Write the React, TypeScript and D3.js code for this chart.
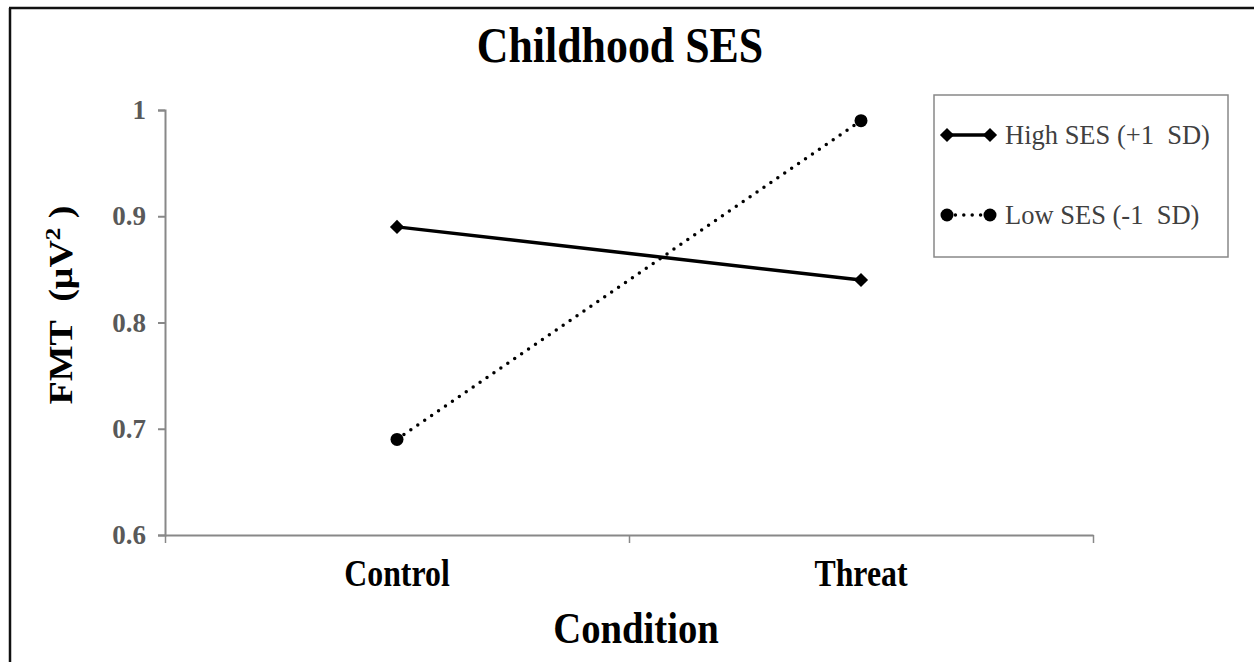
import { useEffect, useRef } from "react";
import { axisBottom, axisLeft, line, scaleLinear, scalePoint, select, symbol, symbolSquare } from "d3";

const conditions = ["Control", "Threat"];
const highSES = [0.89, 0.84];
const lowSES = [0.69, 0.99];
const yTicks = [0.6, 0.7, 0.8, 0.9, 1];
const seriesNames = ["High SES (+1  SD)", "Low SES (-1  SD)"];

const W = 1254;
const H = 662;
const left = 165;
const right = 1093;
const top = 110;
const bottom = 535;
const serif = "'Liberation Serif', 'Times New Roman', serif";
const axisGray = "#888888";
const labelGray = "#595959";
const squeeze = 0.86;

function Narrow({ x, y, size, children }: { x: number; y: number; size: number; children: string }) {
  return (
    <text
      transform={`translate(${x},${y}) scale(${squeeze},1)`}
      textAnchor="middle"
      fontFamily={serif}
      fontWeight="bold"
      fontSize={size}
    >
      {children}
    </text>
  );
}

export default function App() {
  const xRef = useRef<SVGGElement>(null);
  const yRef = useRef<SVGGElement>(null);

  const x = scalePoint<string>().domain(conditions).range([left, right]).padding(0.5);
  const y = scaleLinear().domain([0.6, 1]).range([bottom, top]);

  useEffect(() => {
    if (yRef.current) {
      const g = select(yRef.current);
      g.call(
        axisLeft(y)
          .tickValues(yTicks)
          .tickSize(7)
          .tickPadding(12)
          .tickFormat((d) => String(+d))
      );
      g.select(".domain").attr("stroke", axisGray).attr("stroke-width", 2);
      g.selectAll(".tick line").attr("stroke", axisGray).attr("stroke-width", 2);
      g.selectAll(".tick text")
        .attr("fill", labelGray)
        .attr("font-family", serif)
        .attr("font-weight", "bold")
        .attr("font-size", 27);
    }
    if (xRef.current) {
      const g = select(xRef.current);
      const edges = scaleLinear().domain([0, 2]).range([left, right]);
      g.call(axisBottom(edges).tickValues([0, 1, 2]).tickSize(8).tickSizeOuter(0).tickFormat(() => ""));
      g.select(".domain").attr("stroke", axisGray).attr("stroke-width", 2);
      g.selectAll(".tick line").attr("stroke", axisGray).attr("stroke-width", 1.5);
    }
  }, []);

  const path = line<number>()
    .x((_, i) => x(conditions[i]) as number)
    .y((d) => y(d));
  const diamond = symbol().type(symbolSquare).size(100)()!;
  const dot = { strokeDasharray: "0 8.4", strokeLinecap: "round" as const };

  return (
    <svg width={W} height={H} style={{ position: "absolute", left: 0, top: 0, background: "#fff" }}>
      <rect x={0} y={0} width={W} height={H} fill="#fff" />
      <line x1={9} x2={W} y1={8} y2={8} stroke="#111" strokeWidth={2.5} />
      <line x1={10} x2={10} y1={8} y2={H} stroke="#111" strokeWidth={2.5} />

      <Narrow x={620} y={62} size={51}>Childhood SES</Narrow>

      <g ref={yRef} transform={`translate(${left},0)`} />
      <g ref={xRef} transform={`translate(0,${bottom})`} />

      {conditions.map((c) => (
        <Narrow key={c} x={x(c) as number} y={586} size={37}>
          {c}
        </Narrow>
      ))}
      <Narrow x={636} y={643} size={45}>Condition</Narrow>

      <text
        transform={`translate(72,305) rotate(-90) scale(1,${squeeze})`}
        textAnchor="middle"
        fontFamily={serif}
        fontWeight="bold"
        fontSize={38}
        style={{ whiteSpace: "pre" }}
      >
        FMT  (μV<tspan dy={-14} fontSize={25}>2</tspan>
        <tspan dy={14}> )</tspan>
      </text>

      <path d={path(highSES)!} fill="none" stroke="#000" strokeWidth={3.5} />
      {highSES.map((v, i) => (
        <path key={i} d={diamond} transform={`translate(${x(conditions[i])},${y(v)}) rotate(45)`} fill="#000" />
      ))}
      <path d={path(lowSES)!} fill="none" stroke="#000" strokeWidth={3.5} {...dot} />
      {lowSES.map((v, i) => (
        <circle key={i} cx={x(conditions[i])} cy={y(v)} r={6.5} fill="#000" />
      ))}

      <rect x={934} y={95} width={294} height={162} fill="#fff" stroke={axisGray} strokeWidth={1.5} />
      <g>
        <line x1={947} x2={990} y1={135} y2={135} stroke="#000" strokeWidth={3.5} />
        <path d={diamond} transform="translate(947,135) rotate(45)" fill="#000" />
        <path d={diamond} transform="translate(990,135) rotate(45)" fill="#000" />
        <text x={1005} y={144} fontFamily={serif} fontSize={26.5} fill="#404040" style={{ whiteSpace: "pre" }}>
          {seriesNames[0]}
        </text>
        <line x1={947} x2={990} y1={215} y2={215} stroke="#000" strokeWidth={3.5} {...dot} />
        <circle cx={947} cy={215} r={6.5} fill="#000" />
        <circle cx={990} cy={215} r={6.5} fill="#000" />
        <text x={1005} y={224} fontFamily={serif} fontSize={26.5} fill="#404040" style={{ whiteSpace: "pre" }}>
          {seriesNames[1]}
        </text>
      </g>
    </svg>
  );
}
